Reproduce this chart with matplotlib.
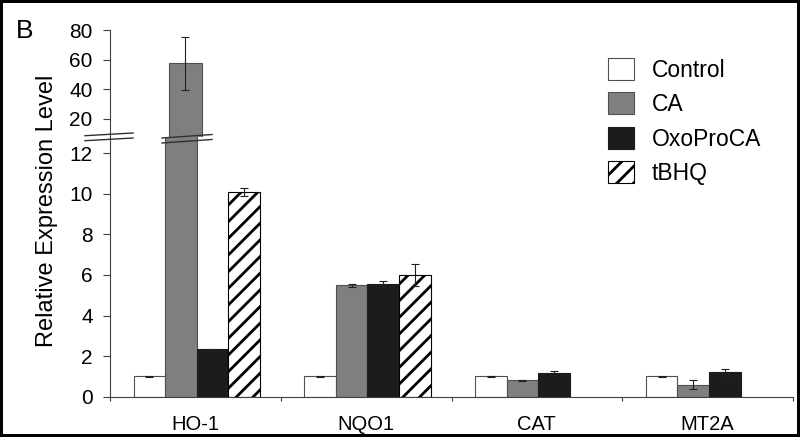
import matplotlib
matplotlib.use('Agg')
import matplotlib.pyplot as plt
from matplotlib.patches import Patch
from matplotlib.lines import Line2D
import numpy as np

plt.rcParams['font.family'] = ['Liberation Sans', 'DejaVu Sans']
plt.rcParams['hatch.linewidth'] = 2.0

# values
genes = ['HO-1', 'NQO1', 'CAT', 'MT2A']
series_names = ['Control', 'CA', 'OxoProCA', 'tBHQ']
control = [1.0, 1.0, 1.0, 1.0]
control_err = [0.02, 0.02, 0.02, 0.02]
ca = [57.5, 5.5, 0.8, 0.6]
ca_err = [18.0, 0.07, 0.04, 0.23]
oxo = [2.33, 5.55, 1.17, 1.2]
oxo_err = [0.04, 0.15, 0.1, 0.18]
tbhq = [10.1, 6.0, np.nan, np.nan]
tbhq_err = [0.2, 0.55, np.nan, np.nan]

upper_ticks = [20, 40, 60, 80]
lower_ticks = [0, 2, 4, 6, 8, 10, 12]

W, H = 800, 437
fig = plt.figure(figsize=(W / 100, H / 100), dpi=100, edgecolor='black', linewidth=3)

# axes in pixel terms: y-axis at x=110, right end x=793, zero at y=397, break at y=137, top at y=30
left, right = 110, 793
y0, ybrk, ytop = 396.7, 137, 30
ax_lo = fig.add_axes([left / W, (H - y0) / H, (right - left) / W, (y0 - ybrk) / H])
ax_hi = fig.add_axes([left / W, (H - ybrk) / H, (right - left) / W, (ybrk - ytop) / H])

lo_lim = (0, 12.8)
hi_lim = (7.62, 80)

styles = [
    dict(color='white', edgecolor='#505050'),
    dict(color='#7f7f7f', edgecolor='#505050'),
    dict(color='#1c1c1c', edgecolor='#1c1c1c'),
    dict(color='white', edgecolor='black', hatch='//'),
]
vals = [control, ca, oxo, tbhq]
errs = [control_err, ca_err, oxo_err, tbhq_err]

x = np.arange(len(genes))
w = 0.185
for j, (v, e, st) in enumerate(zip(vals, errs, styles)):
    v = np.array(v, dtype=float)
    e = np.array(e, dtype=float)
    pos = x + (j - 1.5) * w + 0.008
    for ax, only_big in ((ax_lo, False), (ax_hi, True)):
        vv = np.where(v > lo_lim[1], v, np.nan) if only_big else v
        ax.bar(pos, vv, width=w, linewidth=0.8, **st)
        ax.errorbar(pos, vv, yerr=np.where(np.isnan(vv), np.nan, e), fmt='none',
                    ecolor='#202020', elinewidth=0.8, capsize=2.6, capthick=0.8)

for ax in (ax_lo, ax_hi):
    ax.set_xlim(-0.5, (right - left) / 181.3 - 0.5)
    for s in ('top', 'right'):
        ax.spines[s].set_visible(False)
    ax.spines['left'].set_color('#404040')
    ax.spines['left'].set_linewidth(0.8)
    ax.tick_params(axis='y', direction='out', length=5, width=0.8, color='#404040',
                   labelsize=15, pad=7.5)
    ax.patch.set_alpha(0)

ax_lo.set_ylim(*lo_lim)
ax_lo.set_yticks(lower_ticks)
ax_lo.spines['bottom'].set_color('#404040')
ax_lo.spines['bottom'].set_linewidth(0.8)
ax_lo.set_xticks(x)
ax_lo.set_xticklabels(genes)
ax_lo.set_xticks(np.arange(len(genes) + 1) - 0.5, minor=True)
ax_lo.tick_params(axis='x', which='major', length=0, labelsize=14.5, pad=13)
ax_lo.tick_params(axis='x', which='minor', direction='out', length=3, width=0.8, color='#404040')

ax_hi.set_ylim(*hi_lim)
ax_hi.set_yticks(upper_ticks)
ax_hi.spines['bottom'].set_visible(False)
ax_hi.set_xticks([])

# break marks across the axis and across the tall bar
for (xa, xb), (ya1, yb1), (ya2, yb2) in [((85, 133), (135.7, 133.0), (140.7, 138.0)),
                                          ((162, 212), (138.0, 134.5), (143.0, 139.5))]:
    for ya, yb in ((ya1, yb1), (ya2, yb2)):
        fig.add_artist(Line2D([xa / W, xb / W], [1 - ya / H, 1 - yb / H],
                              color='#303030', linewidth=1.0))

fig.text(47 / W, 1 - 211 / H, 'Relative Expression Level', rotation=90,
         ha='center', va='center', fontsize=17)
fig.text(16 / W, 1 - 31 / H, 'B', ha='left', va='center', fontsize=19)

handles = [Patch(facecolor=st['color'], edgecolor=st['edgecolor'], hatch=st.get('hatch'), linewidth=0.8)
           for st in styles]
fig.legend(handles, series_names, loc='upper left', bbox_to_anchor=(608 / W, 1 - 58 / H),
           frameon=False, fontsize=16.5, borderaxespad=0, borderpad=0,
           handlelength=1.135, handleheight=1.09, labelspacing=0.47, handletextpad=0.79)

fig.savefig('out.png', dpi=100)
